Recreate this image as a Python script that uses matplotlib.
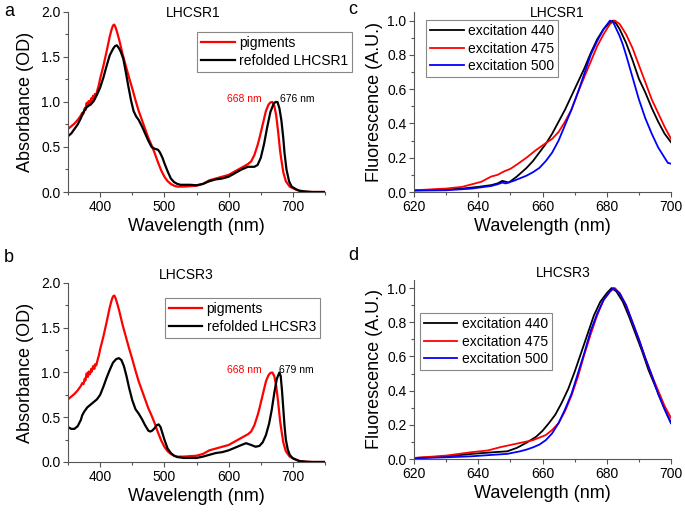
import matplotlib
matplotlib.use("Agg")
import matplotlib.pyplot as plt
from matplotlib.ticker import MultipleLocator

plt.rcParams['font.family'] = ['Liberation Sans', 'DejaVu Sans']

# absorbance spectra (panels a, b)
wl_pig = [350, 355, 360, 365, 370, 372, 374, 376, 377, 379, 381, 382, 384, 386, 387, 389, 391, 392, 394,
          396, 398, 400, 405, 410, 415, 418, 420, 422, 424, 427, 430, 435, 440, 445, 450, 455, 460, 465,
          470, 475, 480, 485, 490, 495, 500, 505, 510, 515, 520, 530, 540, 550, 560, 570, 580, 590, 600,
          610, 620, 630, 635, 640, 645, 648, 652, 655, 658, 662, 665, 668, 671, 674, 677, 680, 682, 685,
          689, 695, 702, 710, 720, 730, 750]
od_pig = [0.70, 0.73, 0.76, 0.80, 0.85, 0.88, 0.87, 0.93, 0.91, 0.99, 0.95, 1.01, 0.98, 1.04, 1.01, 1.07,
          1.04, 1.09, 1.08, 1.14, 1.19, 1.26, 1.40, 1.56, 1.73, 1.81, 1.85, 1.86, 1.83, 1.76, 1.68, 1.53,
          1.40, 1.27, 1.15, 1.02, 0.90, 0.80, 0.70, 0.60, 0.52, 0.43, 0.33, 0.24, 0.17, 0.12, 0.09, 0.07,
          0.06, 0.06, 0.065, 0.07, 0.09, 0.13, 0.15, 0.17, 0.19, 0.23, 0.27, 0.31, 0.34, 0.41, 0.52, 0.60,
          0.72, 0.81, 0.90, 0.97, 0.995, 1.00, 0.96, 0.85, 0.67, 0.46, 0.36, 0.22, 0.12, 0.06, 0.035, 0.012,
          0.003, 0.0, 0.0]

wl_r1 = [350, 355, 360, 365, 370, 375, 380, 385, 390, 395, 400, 405, 410, 415, 420, 423, 426, 429, 432,
         436, 440, 444, 448, 452, 456, 460, 465, 470, 475, 480, 485, 490, 493, 497, 500, 505, 510, 515,
         520, 525, 540, 550, 560, 570, 580, 590, 600, 610, 620, 630, 640, 645, 650, 655, 660, 665, 670,
         673, 676, 679, 682, 685, 687, 690, 694, 698, 705, 710, 720, 730, 750]
od_r1 = [0.62, 0.65, 0.70, 0.75, 0.82, 0.90, 0.95, 0.97, 1.01, 1.08, 1.16, 1.27, 1.40, 1.52, 1.59, 1.62,
         1.63, 1.60, 1.56, 1.48, 1.33, 1.17, 1.02, 0.90, 0.84, 0.80, 0.73, 0.65, 0.57, 0.50, 0.48, 0.47,
         0.44, 0.38, 0.32, 0.23, 0.15, 0.11, 0.09, 0.08, 0.08, 0.075, 0.09, 0.12, 0.14, 0.15, 0.17, 0.21,
         0.25, 0.28, 0.28, 0.30, 0.38, 0.53, 0.72, 0.89, 0.98, 1.00, 1.00, 0.93, 0.80, 0.60, 0.43, 0.25,
         0.12, 0.06, 0.03, 0.015, 0.005, 0.0, 0.0]

wl_r3 = [350, 355, 360, 365, 370, 372, 375, 380, 385, 390, 395, 400, 405, 410, 415, 420, 425, 429, 433,
         437, 441, 445, 450, 455, 460, 465, 470, 475, 478, 481, 485, 488, 491, 494, 497, 500, 505, 510,
         515, 520, 530, 550, 560, 570, 580, 590, 600, 610, 620, 627, 635, 642, 648, 653, 658, 663, 667,
         671, 675, 679, 681, 683, 685, 687, 689, 692, 695, 700, 710, 720, 730, 750]
od_r3 = [0.39, 0.37, 0.37, 0.40, 0.47, 0.52, 0.56, 0.61, 0.64, 0.67, 0.70, 0.75, 0.84, 0.94, 1.03, 1.11,
         1.15, 1.16, 1.14, 1.07, 0.96, 0.83, 0.69, 0.59, 0.54, 0.48, 0.41, 0.35, 0.34, 0.35, 0.38, 0.41,
         0.42, 0.39, 0.32, 0.25, 0.15, 0.10, 0.07, 0.055, 0.045, 0.045, 0.06, 0.08, 0.10, 0.11, 0.13,
         0.16, 0.19, 0.21, 0.19, 0.17, 0.18, 0.22, 0.30, 0.43, 0.58, 0.77, 0.93, 1.00, 0.96, 0.80, 0.60,
         0.40, 0.25, 0.14, 0.08, 0.04, 0.01, 0.003, 0.0, 0.0]

# fluorescence spectra (panels c, d)
c_wl_440 = [620, 625, 630, 635, 640, 644, 646, 647.5, 648.5, 649.5, 652, 655, 657, 659, 661, 663, 665, 667,
            669, 671, 673, 675, 677, 679, 681, 682, 683, 684, 686, 688, 690, 692, 694, 696, 698, 700]
c_f_440 = [0.01, 0.012, 0.015, 0.02, 0.03, 0.04, 0.05, 0.065, 0.06, 0.055, 0.09, 0.14, 0.18, 0.23, 0.28,
           0.34, 0.41, 0.48, 0.56, 0.64, 0.72, 0.81, 0.89, 0.95, 0.99, 1.0, 0.98, 0.95, 0.87, 0.77, 0.66,
           0.58, 0.49, 0.41, 0.34, 0.29]
c_wl_475 = [620, 625, 630, 635, 638, 641, 644, 646, 648, 650, 652, 655, 658, 661, 663, 665, 667, 669, 671,
            673, 675, 677, 679, 681, 682.5, 684, 686, 688, 690, 692, 694, 696, 698, 700]
c_f_475 = [0.01, 0.015, 0.02, 0.03, 0.045, 0.06, 0.09, 0.10, 0.12, 0.135, 0.16, 0.20, 0.245, 0.285, 0.31,
           0.35, 0.41, 0.48, 0.58, 0.67, 0.76, 0.85, 0.92, 0.98, 1.0, 0.98, 0.92, 0.84, 0.74, 0.64, 0.54,
           0.46, 0.38, 0.31]
c_wl_500 = [620, 630, 638, 644, 646, 647.5, 648.5, 651, 653, 655, 657, 659, 661, 663, 665, 667, 669, 671,
            673, 675, 677, 679, 681, 682, 683, 684, 685, 686, 688, 690, 692, 694, 696, 698, 699, 700]
c_f_500 = [0.008, 0.01, 0.02, 0.035, 0.045, 0.055, 0.05, 0.065, 0.08, 0.095, 0.115, 0.14, 0.18, 0.23, 0.30,
           0.39, 0.48, 0.58, 0.69, 0.80, 0.88, 0.95, 1.0, 0.99, 0.95, 0.91, 0.86, 0.80, 0.67, 0.54, 0.43,
           0.34, 0.26, 0.20, 0.17, 0.165]

d_wl_440 = [620, 630, 638, 645, 649, 652, 655, 658, 660, 662, 664, 666, 668, 670, 672, 674, 676, 678, 680,
            681.5, 683, 685, 687, 689, 691, 693, 695, 697, 699, 700]
d_f_440 = [0.006, 0.015, 0.03, 0.04, 0.045, 0.065, 0.095, 0.13, 0.165, 0.21, 0.26, 0.33, 0.41, 0.51, 0.62,
           0.73, 0.84, 0.92, 0.97, 1.0, 0.98, 0.92, 0.83, 0.73, 0.63, 0.52, 0.43, 0.34, 0.25, 0.21]
d_wl_475 = [620, 630, 638, 643, 647, 653, 657, 661, 663, 665, 667, 669, 671, 673, 675, 677, 679, 681,
            682.5, 684, 686, 688, 690, 692, 694, 696, 698, 700]
d_f_475 = [0.006, 0.02, 0.04, 0.05, 0.07, 0.094, 0.11, 0.14, 0.17, 0.21, 0.28, 0.37, 0.48, 0.61, 0.73,
           0.84, 0.93, 0.98, 1.0, 0.97, 0.90, 0.80, 0.70, 0.59, 0.49, 0.40, 0.31, 0.24]
d_wl_500 = [620, 630, 638, 645, 649, 653, 655, 657, 659, 661, 663, 665, 667, 669, 671, 673, 675, 677, 679,
            681, 682, 684, 686, 688, 690, 692, 694, 696, 698, 700]
d_f_500 = [0.004, 0.01, 0.016, 0.025, 0.03, 0.045, 0.055, 0.068, 0.084, 0.11, 0.15, 0.21, 0.29, 0.38, 0.50,
           0.62, 0.75, 0.85, 0.93, 0.98, 1.0, 0.97, 0.90, 0.80, 0.70, 0.59, 0.49, 0.38, 0.29, 0.21]


def style_axes(ax):
    for side in ['top', 'right']:
        ax.spines[side].set_visible(False)
    for side in ['left', 'bottom']:
        ax.spines[side].set_color('#555555')
    ax.tick_params(which='major', direction='out', length=3.5, width=0.8, color='#555555',
                   labelsize=10, pad=2)
    ax.tick_params(which='minor', direction='out', length=2, width=0.8, color='#555555')


def add_legend(ax, x, y):
    leg = ax.legend(loc='upper left', bbox_to_anchor=(x, y), borderaxespad=0, fontsize=10,
                    fancybox=False, framealpha=1, edgecolor='#888888', handlelength=2.4,
                    handletextpad=0.3, labelspacing=0.25, borderpad=0.3)
    leg.get_frame().set_linewidth(0.8)


fig = plt.figure(figsize=(6.85, 5.12), dpi=100)

abs_axes = [
    (fig.add_axes([0.0993, 0.625, 0.3752, 0.3516]), wl_r1, od_r1, 'refolded LHCSR1', '676 nm', (0.502, 0.889)),
    (fig.add_axes([0.0993, 0.0977, 0.3752, 0.3496]), wl_r3, od_r3, 'refolded LHCSR3', '679 nm', (0.377, 0.916)),
]
for ax, wl, od, name, peak, legpos in abs_axes:
    ax.plot(wl_pig, od_pig, color='#ff0000', lw=1.6, label='pigments')
    ax.plot(wl, od, color='black', lw=1.6, label=name)
    ax.set_xlim(350, 750)
    ax.set_ylim(0, 2.0)
    ax.xaxis.set_major_locator(MultipleLocator(100))
    ax.xaxis.set_minor_locator(MultipleLocator(50))
    ax.yaxis.set_major_locator(MultipleLocator(0.5))
    ax.yaxis.set_minor_locator(MultipleLocator(0.25))
    ax.set_yticklabels(['%.1f' % v for v in ax.get_yticks()])
    ax.set_xlabel('Wavelength (nm)', fontsize=13, labelpad=3)
    ax.set_ylabel('Absorbance (OD)', fontsize=13, labelpad=5)
    ax.text(625, 1.03, '668 nm', color='#ff0000', fontsize=7.5, ha='center', va='center')
    ax.text(706, 1.03, peak, color='black', fontsize=7.5, ha='center', va='center')
    style_axes(ax)
    add_legend(ax, *legpos)

fl_axes = [
    (fig.add_axes([0.6044, 0.625, 0.3752, 0.3516]),
     [(c_wl_440, c_f_440), (c_wl_475, c_f_475), (c_wl_500, c_f_500)], (0.047, 0.956)),
    (fig.add_axes([0.6044, 0.1035, 0.3752, 0.3506]),
     [(d_wl_440, d_f_440), (d_wl_475, d_f_475), (d_wl_500, d_f_500)], (0.023, 0.813)),
]
exc_labels = ['excitation 440', 'excitation 475', 'excitation 500']
exc_colors = ['black', '#ff0000', '#0000ff']
for ax, series, legpos in fl_axes:
    for (wl, f), lab, col in zip(series, exc_labels, exc_colors):
        ax.plot(wl, f, color=col, lw=1.3, label=lab)
    ax.set_xlim(620, 700)
    ax.set_ylim(0, 1.05)
    ax.xaxis.set_major_locator(MultipleLocator(20))
    ax.xaxis.set_minor_locator(MultipleLocator(10))
    ax.yaxis.set_major_locator(MultipleLocator(0.2))
    ax.yaxis.set_minor_locator(MultipleLocator(0.1))
    ax.set_xlabel('Wavelength (nm)', fontsize=13, labelpad=3)
    ax.set_ylabel('Fluorescence (A.U.)', fontsize=13, labelpad=3)
    style_axes(ax)
    add_legend(ax, *legpos)

# panel letters and titles
fig.text(4 / 685, 1 - 12 / 512, 'a', fontsize=13, va='center')
fig.text(4 / 685, 1 - 258 / 512, 'b', fontsize=13, va='center')
fig.text(348 / 685, 1 - 10 / 512, 'c', fontsize=13, va='center')
fig.text(348 / 685, 1 - 256 / 512, 'd', fontsize=13, va='center')
fig.text(193 / 685, 1 - 13 / 512, 'LHCSR1', fontsize=10, ha='center', va='center')
fig.text(186 / 685, 1 - 275 / 512, 'LHCSR3', fontsize=10, ha='center', va='center')
fig.text(557 / 685, 1 - 13 / 512, 'LHCSR1', fontsize=10, ha='center', va='center')
fig.text(563 / 685, 1 - 273 / 512, 'LHCSR3', fontsize=10, ha='center', va='center')

plt.savefig('out.png', dpi=100)
